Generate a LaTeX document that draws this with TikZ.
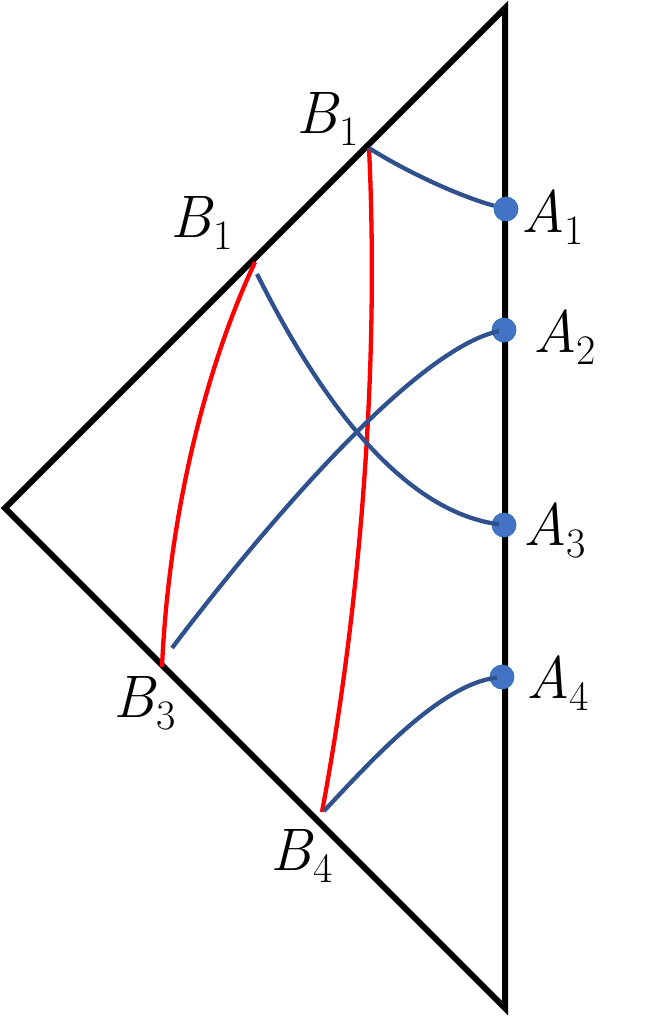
\documentclass[tikz,border=0pt]{standalone}
\usepackage{tikz}
\definecolor{lineblue}{HTML}{2F528F}
\definecolor{dotblue}{HTML}{4472C4}
\definecolor{dotedge}{HTML}{2E75B6}
\definecolor{redline}{HTML}{FF0000}
\newcommand{\mylab}[2]{{\fontsize{60}{66}\selectfont\itshape #1\/}\raisebox{-12pt}{\fontsize{42}{46}\selectfont\upshape #2}}
\tikzset{
  frame/.style={line width=6pt, black, line join=miter},
  redcurve/.style={line width=4.3pt, redline},
  bluecurve/.style={line width=4.3pt, lineblue},
  dot/.style={circle, fill=dotblue, draw=dotedge, line width=0.8pt, minimum size=24pt, inner sep=0pt},
  lab/.style={anchor=base west, inner sep=0pt},
}
\begin{document}
\begin{tikzpicture}[x=1pt,y=-1pt]
\useasboundingbox (0,0) rectangle (646,1018);
% frame
\coordinate (T) at (505,8);
\coordinate (L) at (5,508);
\coordinate (Bt) at (505,1008);
\draw[frame] (T) -- (L) -- (Bt) -- cycle;
% points on the boundary
\coordinate (B1t) at (369,148);
\coordinate (B1s) at (255,262);
\coordinate (B3) at (162,667);
\coordinate (B4) at (322,812);
\coordinate (S1) at (257,274);
\coordinate (S3) at (172,648);
\coordinate (S4) at (324,811);
% dots
\node[dot] (A1) at (506,209) {};
\node[dot] (A2) at (504,330) {};
\node[dot] (A3) at (504,525) {};
\node[dot] (A4) at (502,677) {};
% red curves
\draw[redcurve] (B1t) .. controls (380,380) and (358,620) .. (B4);
\draw[redcurve] (B1s) .. controls (200,380) and (168,530) .. (B3);
% blue curves
\draw[bluecurve] (B1t) .. controls (400,168) and (455,195) .. (A1);
\draw[bluecurve, shorten >=5pt] (S1) .. controls (305,370) and (390,510) .. (A3.center);
\draw[bluecurve, shorten >=5pt] (S3) .. controls (250,545) and (410,350) .. (A2.center);
\draw[bluecurve, shorten >=5pt] (S4) .. controls (370,762) and (440,684) .. (A4.center);
% labels
\node[lab] (lB1t) at (296,133) {\mylab{B}{1}};
\node[lab] (lB1s) at (170,237) {\mylab{B}{1}};
\node[lab] (lB3) at (113,717) {\mylab{B}{3}};
\node[lab] (lB4) at (270,870) {\mylab{B}{4}};
\node[lab] (lA1) at (521,232) {\mylab{A}{1}};
\node[lab] (lA2) at (533,352) {\mylab{A}{2}};
\node[lab] (lA3) at (523,545) {\mylab{A}{3}};
\node[lab] (lA4) at (526,698) {\mylab{A}{4}};
\end{tikzpicture}
\end{document}
